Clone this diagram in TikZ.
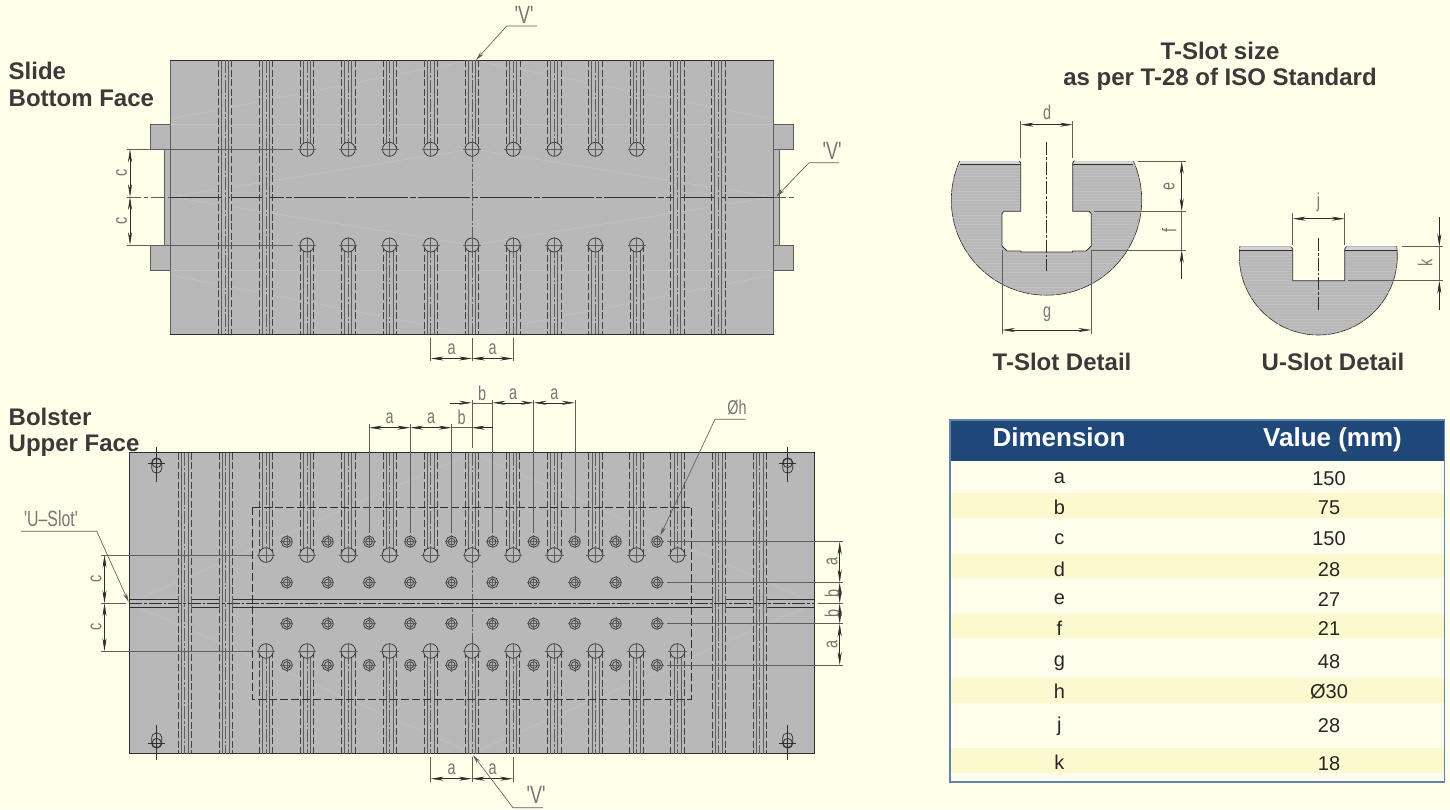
\documentclass[tikz,border=0pt]{standalone}
\usepackage{fontspec}
\usetikzlibrary{arrows.meta}
\setmainfont{Liberation Sans}
\newfontfamily\cadfont[FakeStretch=0.72]{Liberation Sans}
\definecolor{pagebg}{HTML}{FFFEE9}
\definecolor{plate}{HTML}{B8B8B8}
\definecolor{ink}{HTML}{2E2E2E}
\definecolor{soft}{HTML}{5E5E5E}
\definecolor{labelc}{HTML}{777777}
\definecolor{title}{HTML}{3A3A3A}
\definecolor{band}{HTML}{FDF9CF}
\definecolor{head}{HTML}{1F4778}
\definecolor{frame}{HTML}{6484AE}
\tikzset{
  hid/.style={draw=ink!90,line width=.5pt,dash pattern=on 7pt off 2.6pt},
  cen/.style={draw=soft,line width=.45pt,dash pattern=on 13pt off 2pt on 2.5pt off 2pt},
  sol/.style={draw=soft,line width=.7pt},
  thn/.style={draw=soft,line width=.55pt},
  body/.style={fill=plate,draw=ink,line width=.7pt},
  lug/.style={fill=plate,draw=soft,line width=.6pt},
  streak/.style={draw=white,opacity=.16,line width=.5pt},
  dimline/.style={draw=ink,line width=.55pt,{Stealth[length=13pt,width=4pt]}-{Stealth[length=13pt,width=4pt]}},
  tipend/.style={draw=ink,line width=.55pt,-{Stealth[length=13pt,width=4pt]}},
  leader/.style={draw=soft,line width=.65pt,-{Stealth[length=9pt,width=4pt]}},
  cadl/.style={font=\cadfont\fontsize{20}{20}\selectfont,text=labelc,inner sep=0pt},
  cadb/.style={cadl,font=\cadfont\fontsize{25}{25}\selectfont},
  ttl/.style={font=\bfseries\fontsize{24}{24}\selectfont,text=title,inner sep=0pt,anchor=base},
  ttw/.style={ttl,anchor=base west},
  cell/.style={font=\fontsize{20}{20}\selectfont,text=black!85,inner sep=0pt,anchor=base},
  hcell/.style={font=\bfseries\fontsize{26}{26}\selectfont,text=white,inner sep=0pt,anchor=base},
}
\newcommand{\slotv}[3]{%
  \draw[hid] ({#1-6.7},#2)--({#1-6.7},#3);
  \draw[hid] ({#1+6.7},#2)--({#1+6.7},#3);
  \draw[sol] ({#1-3.5},#2)--({#1-3.5},#3);
  \draw[sol] ({#1+3.5},#2)--({#1+3.5},#3);
  \draw[cen] (#1,#2)--(#1,#3);}
\newcommand{\bighole}[3]{%
  \draw[draw=ink,line width=.7pt] (#1,#2) circle[radius=#3];
  \draw[thn] ({#1-#3-2},#2)--({#1+#3+2},#2);
  \draw[thn] (#1,{#2-#3-1})--(#1,{#2+#3+1});}
\newcommand{\smallhole}[2]{%
  \draw[draw=ink,line width=.7pt] (#1,#2) circle[radius=5.6];
  \draw[draw=ink,line width=.7pt] (#1,#2) circle[radius=3.4];
  \draw[thn] ({#1-6.5},#2)--({#1+6.5},#2);
  \draw[thn] (#1,{#2-6.5})--(#1,{#2+6.5});}
\newcommand{\cornerfit}[4]{% x, y circle, y obround centre, name offset
  \draw[draw=ink,line width=.7pt,rounded corners=4.5pt] ({#1-5},{#3-7.5}) rectangle ({#1+5},{#3+7.5});
  \draw[draw=ink,line width=.8pt] (#1,#2) circle[radius=4.6];
  \draw[draw=ink,line width=.55pt] ({#1-8.5},#2)--({#1+8.5},#2);
  \draw[draw=ink,line width=.55pt] (#1,{#4-17.5})--(#1,{#4+17.5});}
\begin{document}
\begin{tikzpicture}[x=1pt,y=-1pt]
\useasboundingbox (0,0) rectangle (1450,809);
\fill[pagebg] (0,0) rectangle (1450,809);

% ---------- Slide ----------
\draw[lug] (164,149) rectangle (171,245);
\draw[lug] (150.3,124.4) rectangle (170.5,149.3);
\draw[lug] (150.3,245) rectangle (170.5,270);
\draw[lug] (773,149) rectangle (779.7,245);
\draw[lug] (773.7,124.4) rectangle (793.7,149.3);
\draw[lug] (773.7,245) rectangle (793.7,270);
\path[fill=plate] (170.4,60) rectangle (773.7,334.3);
\draw[thn] (170.4,60)--(170.4,334.3) (773.7,60)--(773.7,334.3);
\draw[draw=ink,line width=1pt] (170.4,60)--(773.7,60) (170.4,334.3)--(773.7,334.3);
\foreach \ax/\ay/\bx/\by in {170/119/472/60,170/197/472/149,170/197/472/245,170/275/472/334,
  773/119/472/60,773/197/472/149,773/197/472/245,773/275/472/334,
  170/124/773/124,170/270/773/270}
  \draw[streak] (\ax,\ay)--(\bx,\by);
\draw[draw=ink,line width=1pt,dash pattern=on 52pt off 2pt on 6pt off 2pt] (170.4,197)--(773.7,197);
\foreach \x in {224.8,265.9,677.3,718.3} {
  \fill[plate] ({\x-3.3},193) rectangle ({\x+3.3},201);
  \slotv{\x}{60}{334.3}
}
\foreach \x in {307,348.2,389.5,430.7,472,513.2,554.3,595.3,636.6} {
  \slotv{\x}{60}{149.3}
  \slotv{\x}{245}{334.3}
}
\draw[cen] (472,149)--(472,245);
\draw[thn,dash pattern=on 14pt off 3pt on 4pt off 3pt] (127,197)--(170,197);
\draw[thn,dash pattern=on 12pt off 3pt] (774,197)--(794,197);
\foreach \x in {307,348.2,389.5,430.7,472,513.2,554.3,595.3,636.6} {
  \fill[plate] (\x,149.3) circle[radius=7];
  \fill[plate] (\x,245) circle[radius=7];
  \bighole{\x}{149.3}{7}
  \bighole{\x}{245}{7}
}
\coordinate (sA) at (127,149.3); \coordinate (sAe) at (293,149.3);
\coordinate (sB) at (127,245); \coordinate (sBe) at (293,245);
\draw[thn] (sA)--(sAe) (sB)--(sBe);
\draw[dimline] (130,149.3)--(130,197);
\draw[dimline] (130,197)--(130,245);
\node[cadl,rotate=90] (lsc1) at (121.5,173) {c};
\node[cadl,rotate=90] (lsc2) at (121.5,221) {c};
\draw[thn] (430.7,338)--(430.7,361) (472,338)--(472,361) (513.2,338)--(513.2,361);
\draw[dimline] (430.7,358.5)--(472,358.5);
\draw[dimline] (472,358.5)--(513.2,358.5);
\node[cadl] (lsa1) at (451.5,349) {a};
\node[cadl] (lsa2) at (492.5,349) {a};
% leaders
\coordinate (v1a) at (537,26); \coordinate (v1b) at (506.7,26); \coordinate (v1t) at (476,60);
\draw[leader] (v1a)--(v1b)--(v1t);
\node[cadb] (lv1) at (524,15) {'V'};
\coordinate (v2a) at (839,162.7); \coordinate (v2b) at (809,162.7); \coordinate (v2t) at (776.5,196.5);
\draw[leader] (v2a)--(v2b)--(v2t);
\node[cadb] (lv2) at (832,151) {'V'};

% ---------- Bolster ----------
\path[fill=plate] (129.3,452.7) rectangle (814.8,753.7);
\draw[draw=ink,line width=.8pt] (129.3,452.7) rectangle (814.8,753.7);
\foreach \ax/\ay/\bx/\by in {129/603/472/453,129/603/472/753,815/603/472/453,815/603/472/753}
  \draw[streak] (\ax,\ay)--(\bx,\by);
\foreach \x in {184.6,225.7,718.6,759.7} {\slotv{\x}{452.7}{753.7}}
\foreach \x in {266,307,348.3,389.5,430.7,471.8,513,554.2,595.4,636.4,677.4} {
  \slotv{\x}{452.7}{555}
  \slotv{\x}{651}{753.7}
}
\draw[cen] (471.8,555)--(471.8,651);
% dashed field
\draw[draw=ink,line width=.55pt,dash pattern=on 8pt off 3pt] (252.7,507) rectangle (691.4,699.3);
% U-slot
\draw[cen,draw=ink] (129.3,603.3)--(814.8,603.3);
\foreach \xa/\xb in {129.3/178,191.3/219,232.4/712,725.3/753,766.4/814.8} {
  \draw[draw=ink,line width=.8pt] (\xa,599.2)--(\xb,599.2);
  \draw[draw=ink,line width=.8pt] (\xa,607.4)--(\xb,607.4);
}
\foreach \x in {184.6,225.7,718.6,759.7} {
  \draw[sol] ({\x-6.7},596)--({\x-6.7},610) ({\x+6.7},596)--({\x+6.7},610);
}
\foreach \x in {266,307,348.3,389.5,430.7,471.8,513,554.2,595.4,636.4,677.4} {
  \fill[plate] (\x,555) circle[radius=7.3];
  \fill[plate] (\x,651) circle[radius=7.3];
  \bighole{\x}{555}{7.3}
  \bighole{\x}{651}{7.3}
}
\foreach \x in {286.8,327.8,369,410.2,451.6,492.6,533.7,574.8,615.8,657} {
  \foreach \y in {541.7,582.5,623.7,665} {\smallhole{\x}{\y}}
}
\cornerfit{156.7}{463}{465.5}{464.5}
\cornerfit{787.7}{463}{465.5}{464.5}
\cornerfit{156.7}{743}{740.5}{742}
\cornerfit{787.7}{743}{740.5}{742}
% top dimensions
\draw[thn] (369,424)--(369,533) (410.2,424)--(410.2,533) (451.6,424)--(451.6,533)
  (492.6,400)--(492.6,533) (533.7,400)--(533.7,533) (574.8,400)--(574.8,533) (471.8,400)--(471.8,448);
\draw[dimline] (369,427.7)--(410.2,427.7);
\draw[dimline] (410.2,427.7)--(451.6,427.7);
\draw[tipend] (492.6,427.7)--(471.8,427.7);
\draw[thn] (451.6,427.7)--(471.8,427.7);
\draw[tipend] (450,402.8)--(471.8,402.8);
\draw[thn] (471.8,402.8)--(492.6,402.8);
\draw[dimline] (492.6,402.8)--(533.7,402.8);
\draw[dimline] (533.7,402.8)--(574.8,402.8);
\node[cadl] (lba1) at (389.7,418.5) {a};
\node[cadl] (lba2) at (431,418.5) {a};
\node[cadl] (lbb1) at (461.5,417.5) {b};
\node[cadl] (lbb2) at (482,393.5) {b};
\node[cadl] (lba3) at (513,394) {a};
\node[cadl] (lba4) at (554.3,394) {a};
% left dimensions
\draw[thn] (101,555)--(252,555) (101,651)--(252,651) (101,603.3)--(126,603.3);
\draw[dimline] (104.5,555)--(104.5,603.3);
\draw[dimline] (104.5,603.3)--(104.5,651);
\node[cadl,rotate=90] (lbc1) at (96,579) {c};
\node[cadl,rotate=90] (lbc2) at (96,627) {c};
% right dimensions
\draw[thn] (666.7,541.7)--(842.7,541.7) (666.7,582.5)--(842.7,582.5) (666.7,623.7)--(842.7,623.7)
  (666.7,665)--(842.7,665) (818,603.3)--(842.7,603.3);
\draw[dimline] (839.7,541.7)--(839.7,582.5);
\draw[dimline] (839.7,582.5)--(839.7,603.3);
\draw[dimline] (839.7,603.3)--(839.7,623.7);
\draw[dimline] (839.7,623.7)--(839.7,665);
\node[cadl,rotate=90] (lbr1) at (832,561) {a};
\node[cadl,rotate=90] (lbr2) at (832,593) {b};
\node[cadl,rotate=90] (lbr3) at (832,613) {b};
\node[cadl,rotate=90] (lbr4) at (832,644) {a};
% bottom dimensions
\draw[thn] (430.7,757)--(430.7,782) (471.8,757)--(471.8,782) (513,757)--(513,782);
\draw[dimline] (430.7,778.7)--(471.8,778.7);
\draw[dimline] (471.8,778.7)--(513,778.7);
\node[cadl] (lbd1) at (451.5,769.5) {a};
\node[cadl] (lbd2) at (492.5,769.5) {a};
% leaders
\coordinate (u1) at (21,531.3); \coordinate (u2) at (96.7,531.3); \coordinate (u3) at (128.7,602);
\draw[leader] (u1)--(u2)--(u3);
\node[cadb,font=\cadfont\fontsize{22}{22}\selectfont] (lu) at (51,519) {'U–Slot'};
\coordinate (h1) at (745.6,419.3); \coordinate (h2) at (715,419.3); \coordinate (h3) at (660.3,535.5);
\draw[leader] (h1)--(h2)--(h3);
\node[cadl] (lh) at (737,408) {Øh};
\coordinate (w1) at (543,807.7); \coordinate (w2) at (513,807.7); \coordinate (w3) at (473,755);
\draw[leader] (w1)--(w2)--(w3);
\node[cadb] (lv3) at (536,795) {'V'};

% ---------- T-slot detail ----------
\begin{scope}
  \clip (940,161) rectangle (1150,300);
  \fill[plate] (1046.5,200) circle[radius=95.2];
  \begin{scope}
    \clip (1046.5,200) circle[radius=95.2];
    \foreach \y in {161,164,...,298} {\draw[draw=white,opacity=.1,line width=.5pt] (940,\y)--(1150,\y);}
    \fill[plate!60!white] (940,161) rectangle (1150,164.5);
  \end{scope}
  \draw[draw=ink,line width=.6pt,dash pattern=on 12pt off .8pt] (1046.5,200) circle[radius=95.2];
\end{scope}
\draw[draw=ink,line width=.9pt] (959.7,164.8)--(1133.3,164.8);
\path[fill=pagebg,draw=ink,line width=.8pt] (1019,160.5)--(1020.7,163)--(1020.7,211.3)--(1004,211.3)--(1002,213.5)--(1002,246)--(1007,251)--(1020.7,251)--(1021,252)--(1072.4,252)--(1072.7,251)--(1086,251)--(1091.3,246)--(1091.3,213.5)--(1089,211.3)--(1072.7,211.3)--(1072.7,163)--(1074.4,160.5);
\path[fill=pagebg] (1019,155)rectangle(1074.4,161);
\draw[cen,draw=ink] (1046.7,142)--(1046.7,271);
\draw[thn] (1020.7,121)--(1020.7,158) (1072.7,121)--(1072.7,158);
\draw[dimline] (1020.7,124.7)--(1072.7,124.7);
\node[cadl] (ld) at (1047,112.5) {d};
\draw[thn] (1138,161)--(1186,161) (1094,211.3)--(1186,211.3) (1091.3,250)--(1186,250);
\draw[dimline] (1181.7,161)--(1181.7,211.3);
\draw[thn] (1181.7,211.3)--(1181.7,250);
\draw[tipend] (1181.7,279.3)--(1181.7,250);
\node[cadl,rotate=90] (le) at (1169,186) {e};
\node[cadl,rotate=90] (lf) at (1169,230) {f};
\draw[thn] (1002,250)--(1002,334.3) (1091.3,250)--(1091.3,334.3);
\draw[dimline] (1002,330)--(1091.3,330);
\node[cadl] (lg) at (1047,314) {g};

% ---------- U-slot detail ----------
\begin{scope}
  \clip (1230,246.7) rectangle (1410,340);
  \fill[plate] (1318.3,256) circle[radius=79];
  \begin{scope}
    \clip (1318.3,256) circle[radius=79];
    \foreach \y in {247,250,...,335} {\draw[draw=white,opacity=.1,line width=.5pt] (1230,\y)--(1410,\y);}
    \fill[plate!60!white] (1230,246.7) rectangle (1410,250);
  \end{scope}
  \draw[draw=ink,line width=.6pt,dash pattern=on 12pt off .8pt] (1318.3,256) circle[radius=79];
\end{scope}
\draw[draw=ink,line width=.9pt] (1239.6,250.4)--(1397,250.4);
\path[fill=pagebg,draw=ink,line width=.8pt] (1291,246.5)--(1292.7,249)--(1292.7,280.7)--(1344.7,280.7)--(1344.7,249)--(1346.4,246.5);
\path[fill=pagebg] (1291,240)rectangle(1346.4,246.7);
\draw[cen,draw=ink] (1318.3,238)--(1318.3,311);
\draw[thn] (1292.7,213)--(1292.7,245) (1344.7,213)--(1344.7,245);
\draw[dimline] (1292.7,218.7)--(1344.7,218.7);
\node[cadl] (lj) at (1318.5,202) {j};
\draw[thn] (1402,246.7)--(1443,246.7) (1348,280.7)--(1443,280.7);
\draw[thn] (1439.3,246.7)--(1439.3,280.7);
\draw[tipend] (1439.3,217)--(1439.3,246.7);
\draw[tipend] (1439.3,310)--(1439.3,280.7);
\node[cadl,rotate=90] (lk) at (1425,263) {k};

% ---------- Titles ----------
\node[ttw] (t1) at (8.5,79) {Slide};
\node[ttw] (t2) at (8.5,106.5) {Bottom Face};
\node[ttw] (t3) at (8.5,425) {Bolster};
\node[ttw] (t4) at (8.5,451.7) {Upper Face};
\node[ttl] (t5) at (1220,59) {T-Slot size};
\node[ttl] (t6) at (1220,85) {as per T-28 of ISO Standard};
\node[ttl] (t7) at (1062,370) {T-Slot Detail};
\node[ttl] (t8) at (1333,370) {U-Slot Detail};

% ---------- Table ----------
\fill[pagebg!80!white] (950,460) rectangle (1444.7,782);
\foreach \a/\b in {493.3/517.5,554/578.4,614/638.4,678.3/702.7,748.3/773.3}
  \fill[band] (951,\a) rectangle (1444,\b);
\fill[head] (950,420) rectangle (1444.7,460.7);
\draw[draw=frame,line width=1.2pt] (950,420) rectangle (1444.7,782);
\node[hcell] (hd) at (1059,446) {Dimension};
\node[hcell] (hv) at (1332.5,446) {Value (mm)};
\foreach \n/\yn/\v/\yv in {a/483.3/150/485,b/514.3/75/514.7,c/544/150/545,d/576/28/576,e/604.3/27/606,f/635.3/21/635.3,g/666.7/48/668.7,h/698.3/Ø30/698.7,j/731.7/28/732.7,k/769.3/18/770} {
  \node[cell] (n\n) at (1059.3,\yn) {\n};
  \node[cell] (v\n) at (1329,\yv) {\v};
}
\end{tikzpicture}
\end{document}
